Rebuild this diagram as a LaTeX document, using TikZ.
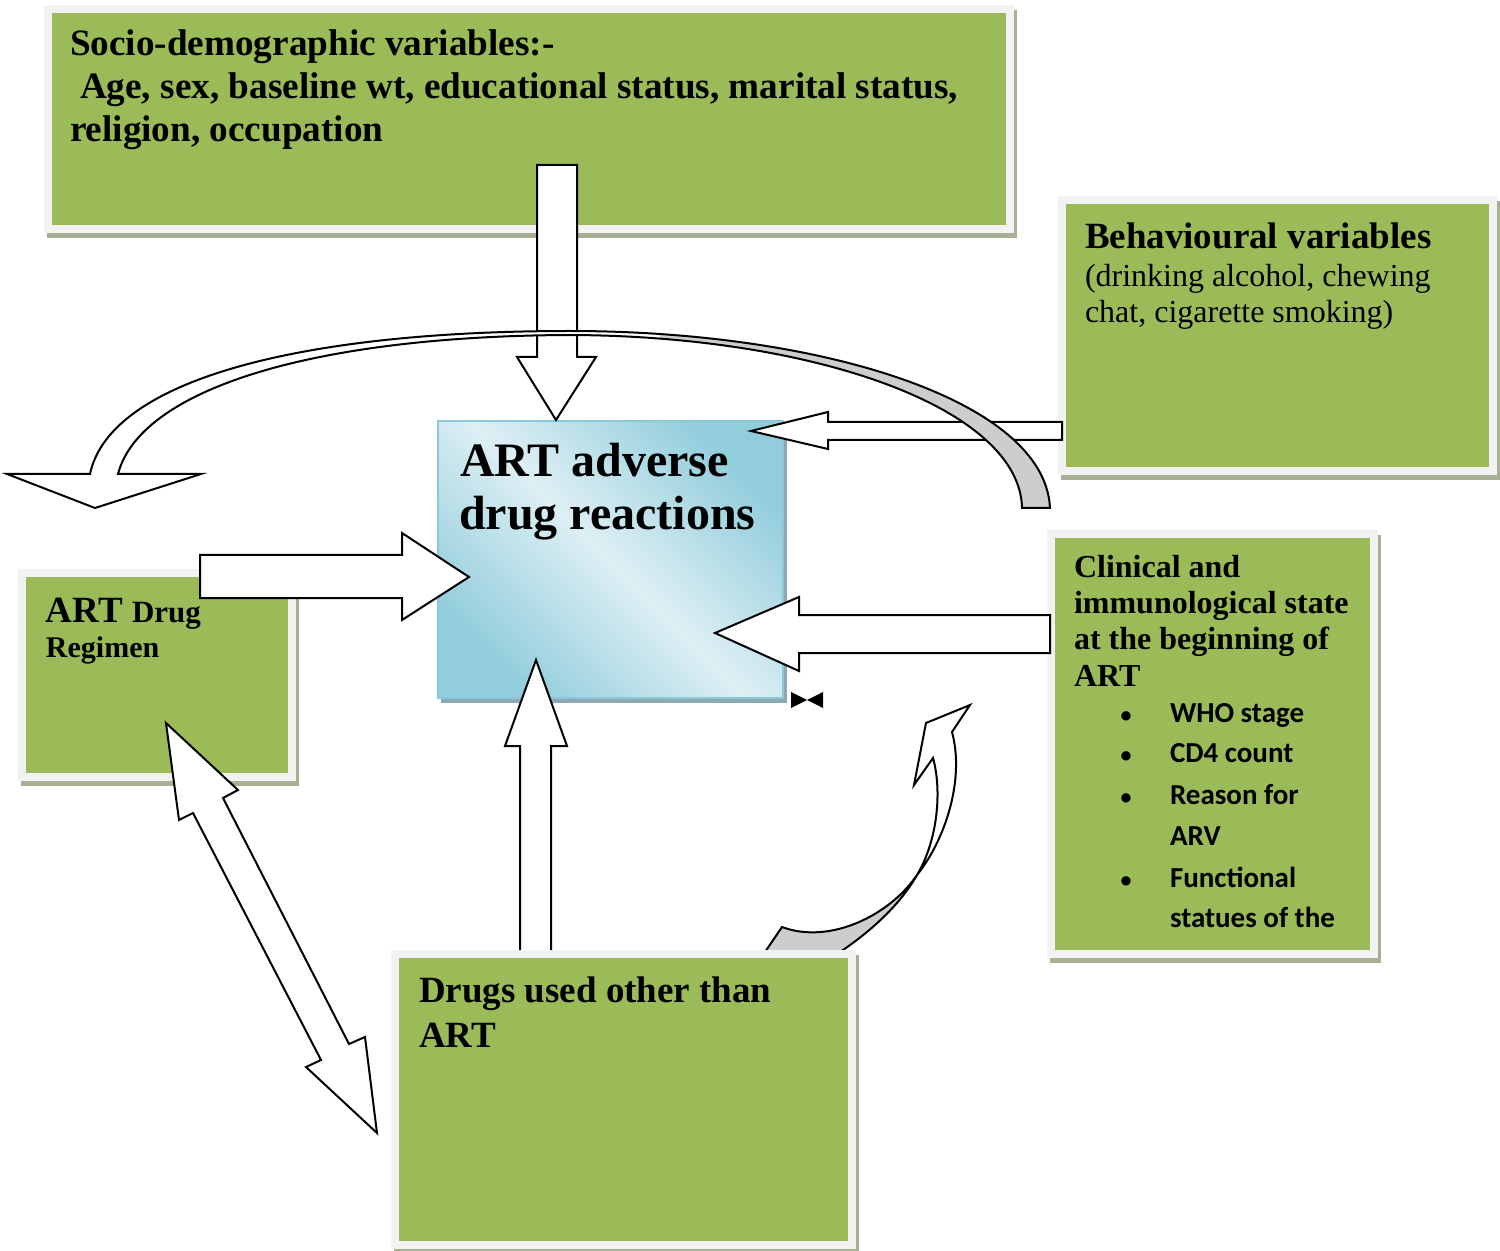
\documentclass[tikz,border=0pt]{standalone}
\usepackage{fontspec}
\setmainfont{Liberation Serif}
\newfontfamily\calfont{Carlito}
\usetikzlibrary{fit}
\definecolor{boxgreen}{HTML}{9BBB59}
\definecolor{framec}{HTML}{F2F2F2}
\definecolor{shadowc}{HTML}{A8B094}
\definecolor{cdark}{HTML}{92CDDC}
\definecolor{clight}{HTML}{DDEFF4}
\definecolor{cborder}{HTML}{8CC8D8}
\definecolor{cshadow}{HTML}{8DA9B3}
\definecolor{arrowgray}{HTML}{CDCDCD}
\tikzset{
  blockarrow/.style={fill=white, draw=black, line width=1pt, line join=miter},
  grayribbon/.style={fill=arrowgray, draw=black, line width=1pt, line join=miter},
  lbl/.style={anchor=base west, inner sep=0pt, outer sep=0pt},
}
\newcommand{\gbox}[5]{%
  \fill[shadowc] (#2+3,#3+5) rectangle (#4+3,#5+5);
  \fill[framec] (#2,#3) rectangle (#4,#5);
  \fill[boxgreen] (#2+8,#3+8) rectangle (#4-8,#5-8);
  \node[fit={(#2,#3) (#4,#5)}, inner sep=0pt] (#1) {};
}
\begin{document}
\begin{tikzpicture}[x=0.5pt, y=-0.5pt]
\useasboundingbox (0,0) rectangle (1500,1251);

% small curved arrow (drawn under the boxes)
\filldraw[grayribbon] (917,875) .. controls (890,915) and (830,945) .. (782,927) -- (765,952) -- (840,952) .. controls (870,932) and (900,905) .. (917,875) -- cycle;
\filldraw[blockarrow] (917,875) .. controls (945,840) and (965,780) .. (952,732) -- (970,705) -- (926,723) -- (914,785) -- (933,758) .. controls (942,790) and (938,840) .. (917,875) -- cycle;

% green boxes
\gbox{socio}{44}{5}{1014}{233}
\gbox{behav}{1058}{196}{1497}{475}
\gbox{clin}{1047}{530}{1378}{958}
\gbox{regimen}{18}{569}{296}{781}
\gbox{other}{391}{950}{856}{1249}

% central box
\fill[cshadow] (441,424) rectangle (787,703);
\shade[top color=cdark, bottom color=cdark, middle color=clight, shading angle=-45] (438,421) rectangle (783,698);
\draw[cborder, line width=0.8pt] (438,421) rectangle (783,698);
\node[fit={(438,421) (783,698)}, inner sep=0pt] (adr) {};

% straight block arrows
\filldraw[blockarrow] (537,165) -- (577,165) -- (577,357) -- (596,357) -- (556,420) -- (517,357) -- (537,357) -- cycle;
\filldraw[blockarrow] (1062,422) -- (828,422) -- (828,412) -- (751,431) -- (828,449) -- (828,440) -- (1062,440) -- cycle;
\filldraw[blockarrow] (200,555) -- (402,555) -- (402,533) -- (469,577) -- (402,620) -- (402,598) -- (200,598) -- cycle;
\filldraw[blockarrow] (1050,615) -- (799,615) -- (799,597) -- (715,633) -- (799,671) -- (799,653) -- (1050,653) -- cycle;
\fill[white] (520,950) -- (520,746) -- (505,746) -- (536,660) -- (567,746) -- (551,746) -- (551,950) -- cycle;
\draw[black, line width=1pt, line join=miter] (520,950) -- (520,746) -- (505,746) -- (536,660) -- (567,746) -- (551,746) -- (551,950);
\filldraw[blockarrow] (166,723) -- (238,790) -- (223,798) -- (349,1044) -- (365,1037) -- (377,1133) -- (306,1067) -- (321,1060) -- (193,813) -- (179,820) -- cycle;

% big curved arrow
\fill[white] (1022,508) .. controls (1020,410) and (820,336) .. (570,335) .. controls (310,336) and (140,390) .. (118,474) -- (201,474) -- (95,508) -- (7,474) -- (90,474) .. controls (110,380) and (300,331) .. (570,331) .. controls (820,331) and (1045,400) .. (1050,508) -- cycle;
\begin{scope}
\clip (660,300) rectangle (1100,520);
\fill[arrowgray] (1022,508) .. controls (1020,410) and (820,336) .. (570,335) .. controls (310,336) and (140,390) .. (118,474) -- (201,474) -- (95,508) -- (7,474) -- (90,474) .. controls (110,380) and (300,331) .. (570,331) .. controls (820,331) and (1045,400) .. (1050,508) -- cycle;
\end{scope}
\draw[black, line width=1pt, line join=miter] (1022,508) .. controls (1020,410) and (820,336) .. (570,335) .. controls (310,336) and (140,390) .. (118,474) -- (201,474) -- (95,508) -- (7,474) -- (90,474) .. controls (110,380) and (300,331) .. (570,331) .. controls (820,331) and (1045,400) .. (1050,508) -- cycle;

% bow tie
\fill[black] (791,692) -- (807,700) -- (791,708) -- cycle;
\fill[black] (823,692) -- (807,700) -- (823,708) -- cycle;

% texts
\node[lbl, font=\fontsize{18.6}{22}\selectfont\bfseries] (t1) at (70,56) {Socio-demographic variables:-};
\node[lbl, font=\fontsize{18.6}{22}\selectfont\bfseries] (t2) at (80,99) {Age, sex, baseline wt, educational status, marital status,};
\node[lbl, font=\fontsize{18.6}{22}\selectfont\bfseries] (t3) at (70,142) {religion, occupation};

\node[lbl, font=\fontsize{18.5}{22}\selectfont\bfseries] (b1) at (1085,249) {Behavioural variables};
\node[lbl, font=\fontsize{16}{19}\selectfont] (b2) at (1085,287) {(drinking alcohol, chewing};
\node[lbl, font=\fontsize{16}{19}\selectfont] (b3) at (1085,323) {chat, cigarette smoking)};

\node[lbl, font=\fontsize{24}{27}\selectfont\bfseries] (c1) at (460,477) {ART adverse};
\node[lbl, font=\fontsize{24}{27}\selectfont\bfseries] (c2) at (459,530) {drug reactions};

\node[lbl, font=\bfseries] (r1) at (46,622) {\fontsize{18.5}{22}\selectfont ART \fontsize{15.5}{18}\selectfont Drug};
\node[lbl, font=\fontsize{15}{18}\selectfont\bfseries] (r2) at (46,657) {Regimen};

\node[lbl, font=\fontsize{16}{18}\selectfont\bfseries] (k1) at (1074,577) {Clinical and};
\node[lbl, font=\fontsize{16}{18}\selectfont\bfseries] (k2) at (1074,613) {immunological state};
\node[lbl, font=\fontsize{16}{18}\selectfont\bfseries] (k3) at (1074,649) {at the beginning of};
\node[lbl, font=\fontsize{16}{18}\selectfont\bfseries] (k4) at (1074,686) {ART};
\foreach \yy/\nm in {722/d1, 762/d2, 804/d3, 887/d4} {
  \node[anchor=base, inner sep=0pt, font=\calfont\fontsize{11}{13}\selectfont\bfseries] (\nm) at (1126,\yy) {•};
}
\node[lbl, font=\calfont\fontsize{14.5}{17}\selectfont\bfseries] (w1) at (1170,722) {WHO stage};
\node[lbl, font=\calfont\fontsize{14.5}{17}\selectfont\bfseries] (w2) at (1170,762) {CD4 count};
\node[lbl, font=\calfont\fontsize{14.5}{17}\selectfont\bfseries] (w3) at (1170,804) {Reason for};
\node[lbl, font=\calfont\fontsize{14.5}{17}\selectfont\bfseries] (w4) at (1170,845) {ARV};
\node[lbl, font=\calfont\fontsize{14.5}{17}\selectfont\bfseries] (w5) at (1170,887) {Functional};
\node[lbl, font=\calfont\fontsize{14.5}{17}\selectfont\bfseries] (w6) at (1170,927) {statues of the};

\node[lbl, font=\fontsize{18.5}{22}\selectfont\bfseries] (o1) at (419,1002) {Drugs used other than};
\node[lbl, font=\fontsize{18.5}{22}\selectfont\bfseries] (o2) at (419,1047) {ART};
\end{tikzpicture}
\end{document}
